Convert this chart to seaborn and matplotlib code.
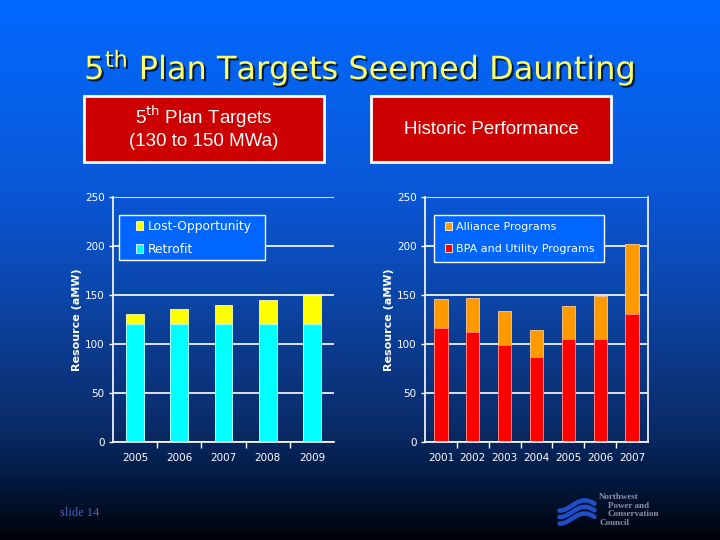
import numpy as np
import pandas as pd
import matplotlib
matplotlib.use("Agg")
import matplotlib.pyplot as plt
import seaborn as sns
from matplotlib.patches import Rectangle, Patch
from matplotlib.colors import LinearSegmentedColormap
import matplotlib.patheffects as pe

# ---------------- data ----------------
target_years = ["2005", "2006", "2007", "2008", "2009"]
retrofit = [120, 120, 120, 120, 120]
lost_opportunity = [10, 15, 20, 25, 30]

hist_years = ["2001", "2002", "2003", "2004", "2005", "2006", "2007"]
bpa_utility = [116.5, 111.5, 99, 86.5, 105, 105, 130.5]
alliance = [29.5, 35, 34, 28, 34, 43.5, 71]

y_ticks = [0, 50, 100, 150, 200, 250]

sns.set_theme(style="white")
plt.rcParams['font.family'] = ['DejaVu Sans']

W, H = 720, 540
fig = plt.figure(figsize=(7.2, 5.4), dpi=100)

# ---------------- background gradient ----------------
bg = fig.add_axes([0, 0, 1, 1], zorder=-10)
stops = [(0.0, '#0068ff'), (0.2, '#0860e8'), (0.37, '#0a55d4'), (0.55, '#0b46a8'),
         (0.7, '#0b3580'), (0.8, '#0a2a66'), (0.89, '#021a42'), (1.0, '#000208')]
cmap = LinearSegmentedColormap.from_list('bg', stops)
grad = np.linspace(0, 1, 540).reshape(-1, 1)
bg.imshow(grad, aspect='auto', cmap=cmap, extent=[0, 1, 0, 1], origin='upper')
bg.set_axis_off()

def px_rect(x0, y0, x1, y1):
    return [x0 / W, 1 - y1 / H, (x1 - x0) / W, (y1 - y0) / H]

# ---------------- title ----------------
fig.text(360 / W, 1 - 68 / H, "5$^{\\mathrm{th}}$ Plan Targets Seemed Daunting",
         ha='center', va='center', fontsize=23, color='#ffff66',
         path_effects=[pe.withSimplePatchShadow(offset=(1.5, -1.5), shadow_rgbFace='black', alpha=0.7)])

# ---------------- red header boxes ----------------
for (x0, x1) in [(84, 324), (371, 611)]:
    fig.patches.append(Rectangle((x0 / W, 1 - 162 / H), (x1 - x0) / W, 66 / H,
                                 transform=fig.transFigure, facecolor='#cc0000',
                                 edgecolor='white', linewidth=2, zorder=1))
fig.text(204 / W, 1 - 117 / H, "5$^{\\mathrm{th}}$ Plan Targets", ha='center', va='center',
         fontsize=13.5, color='white', family='Liberation Sans', zorder=2)
fig.text(204 / W, 1 - 141 / H, "(130 to 150 MWa)", ha='center', va='center',
         fontsize=13.5, color='white', family='Liberation Sans', zorder=2)
fig.text(491 / W, 1 - 129 / H, "Historic Performance", ha='center', va='center',
         fontsize=13.5, color='white', family='Liberation Sans', zorder=2)

# ---------------- charts ----------------
def style_axes(ax, n, right_spine):
    ax.set_facecolor('none')
    ax.set_ylim(0, 250)
    ax.set_xlim(-0.5, n - 0.5)
    ax.set_yticks(y_ticks)
    ax.yaxis.grid(True, color='white', linewidth=1.2)
    ax.xaxis.grid(False)
    ax.set_axisbelow(True)
    for s in ['left', 'bottom']:
        ax.spines[s].set_visible(True)
        ax.spines[s].set_color('white')
        ax.spines[s].set_linewidth(1.2)
    ax.spines['top'].set_visible(False)
    ax.spines['right'].set_visible(right_spine)
    if right_spine:
        ax.spines['right'].set_color('white')
        ax.spines['right'].set_linewidth(1.2)
    ax.tick_params(axis='y', colors='white', labelsize=7.5, length=3, width=1, direction='out',
                   left=True, pad=3)
    ax.tick_params(axis='x', which='major', colors='white', labelsize=7.5, length=0, pad=8)
    ax.set_xticks(np.arange(n - 1) + 0.5, minor=True)
    ax.tick_params(axis='x', which='minor', colors='white', length=4, width=1, bottom=True)
    ax.set_ylabel("Resource (aMW)", color='white', fontsize=8, fontweight='bold', labelpad=2)
    ax.set_xlabel("")

def add_legend(ax, handles, box_px, ax_px, anchor_px, fs, spacing):
    """box_px: legend frame (x0,y0,x1,y1) in pixels; ax_px: axes (x0,y0,x1,y1) in pixels."""
    ax_x0, ax_y0, ax_x1, ax_y1 = ax_px
    def to_ax(x, y):
        return ((x - ax_x0) / (ax_x1 - ax_x0), (ax_y1 - y) / (ax_y1 - ax_y0))
    bx0, by0, bx1, by1 = box_px
    p0 = to_ax(bx0, by1)
    p1 = to_ax(bx1, by0)
    ax.add_patch(Rectangle(p0, p1[0] - p0[0], p1[1] - p0[1], transform=ax.transAxes,
                           facecolor='#0066ff', edgecolor='white', linewidth=1, zorder=5,
                           clip_on=False))
    leg = ax.legend(handles=handles, loc='upper left', bbox_to_anchor=to_ax(*anchor_px),
                    fontsize=fs, frameon=False, handlelength=0.6, handleheight=0.75,
                    handletextpad=0.35, borderpad=0, labelspacing=spacing, borderaxespad=0)
    leg.set_zorder(6)
    for t in leg.get_texts():
        t.set_color('white')
    return leg

# left chart
ax1_px = (113, 197, 334, 441.5)
ax1 = fig.add_axes(px_rect(*ax1_px))
df1 = pd.DataFrame({"year": target_years, "retrofit": retrofit, "lost": lost_opportunity})
df1["total"] = df1["retrofit"] + df1["lost"]
sns.barplot(data=df1, x="year", y="total", color='#ffff00', saturation=1, width=0.4,
            edgecolor='#ffffaa', linewidth=0.6, ax=ax1, order=target_years)
sns.barplot(data=df1, x="year", y="retrofit", color='#00ffff', saturation=1, width=0.4,
            edgecolor='#aaffff', linewidth=0.6, ax=ax1, order=target_years)
style_axes(ax1, len(target_years), False)
h1 = [Patch(facecolor='#ffff00', edgecolor='white', linewidth=0.6, label='Lost-Opportunity'),
      Patch(facecolor='#00ffff', edgecolor='white', linewidth=0.6, label='Retrofit')]
add_legend(ax1, h1, (119, 215, 265, 260), ax1_px, (136, 220), 8.8, 0.8)

# right chart
ax2_px = (425, 197, 648, 441.5)
ax2 = fig.add_axes(px_rect(*ax2_px))
df2 = pd.DataFrame({"year": hist_years, "bpa": bpa_utility, "alliance": alliance})
df2["total"] = df2["bpa"] + df2["alliance"]
sns.barplot(data=df2, x="year", y="total", color='#ff9900', saturation=1, width=0.42,
            edgecolor='#ffcc88', linewidth=0.6, ax=ax2, order=hist_years)
sns.barplot(data=df2, x="year", y="bpa", color='#ff0000', saturation=1, width=0.42,
            edgecolor='#ff8888', linewidth=0.6, ax=ax2, order=hist_years)
style_axes(ax2, len(hist_years), True)
h2 = [Patch(facecolor='#ff9900', edgecolor='white', linewidth=0.6, label='Alliance Programs'),
      Patch(facecolor='#ff0000', edgecolor='white', linewidth=0.6, label='BPA and Utility Programs')]
add_legend(ax2, h2, (434, 215, 604, 262), ax2_px, (445, 222), 8.0, 1.1)

# ---------------- footer ----------------
fig.text(60 / W, 1 - 513 / H, "slide 14", ha='left', va='center', fontsize=9,
         color='#4a68c0', family='Liberation Serif')

logo_lines = [("Northwest", 599, 497), ("Power and", 608, 506),
              ("Conservation", 608, 514.5), ("Council", 600, 523)]
for txt, x, y in logo_lines:
    fig.text(x / W, 1 - y / H, txt, ha='left', va='center', fontsize=6.5,
             color='#8c90a8', family='Liberation Serif', fontweight='bold')

lg = fig.add_axes(px_rect(556, 496, 598, 528))
lg.set_axis_off()
lg.set_xlim(-1.2, 1.2)
lg.set_ylim(-1.1, 1.1)
for off in [-0.45, 0.0, 0.45]:
    xs = np.linspace(-1.0, 1.0, 50)
    ys = off + 0.35 * np.sin(xs * 2.2 + 0.6)
    lg.plot(xs, ys, color='#1f4fc8', linewidth=3.2, solid_capstyle='round')

fig.savefig("out.png", dpi=100)
